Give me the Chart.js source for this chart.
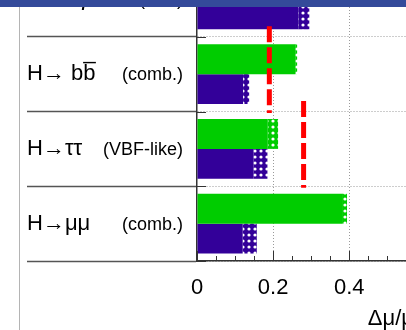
<!DOCTYPE html>
<html>
<head>
<meta charset="utf-8">
<script src="https://cdn.jsdelivr.net/npm/chart.js@4.4.0/dist/chart.umd.min.js"></script>
<style>
  body { margin: 0; background: #fff; }
  #frame { position: relative; width: 406px; height: 330px; overflow: hidden; background: #fff; }
  #band { position: absolute; left: 0; top: 0; width: 406px; height: 7px; background: #344a9a; }
  #rule { position: absolute; left: 19px; top: 0; width: 1px; height: 330px; background: #b4b4b4; }
  #wrap { position: absolute; left: 0; top: -38px; }
</style>
</head>
<body>
<div id="frame">
  <div id="rule"></div>
  <div id="wrap"><canvas id="myChart" width="414" height="368"></canvas></div>
  <div id="band"></div>
</div>
<script>
// channels, top row is cut off by the header
var channels = ['H\u2192Z\u03b3', 'H\u2192 bb\u0305', 'H\u2192\u03c4\u03c4', 'H\u2192\u03bc\u03bc'];
var qualifiers = ['(incl.)', '(comb.)', '(VBF-like)', '(comb.)'];

// 300 fb-1 (green): experimental only / with theory
var green_exp = [null, 0.258, 0.186, 0.381];
var green_tot = [null, 0.263, 0.213, 0.394];

// 3000 fb-1 (blue)
var blue_exp = [0.266, 0.121, 0.148, 0.120];
var blue_tot = [0.295, 0.137, 0.185, 0.157];

// red dashed markers
var red_vals = [null, 0.19, 0.28, null];

var x_ticks = [0, 0.2, 0.4];

function dots(color) {
  var c = document.createElement('canvas');
  c.width = 6; c.height = 6;
  var g = c.getContext('2d');
  g.fillStyle = color;
  g.fillRect(0, 0, 6, 6);
  g.fillStyle = '#fff';
  g.beginPath();
  g.arc(3, 3, 1.6, 0, Math.PI * 2);
  g.fill();
  return g.createPattern(c, 'repeat');
}

function diff(tot, exp) {
  return tot.map(function (t, i) { return t == null ? null : +(t - exp[i]).toFixed(3); });
}

var GREEN = '#00cc00';
var BLUE = '#330099';

// red dashed lines, ROOT minor ticks (inside), y ticks at row edges, qualifiers
var extras = {
  id: 'extras',
  afterDatasetsDraw: function (chart) {
    var ctx = chart.ctx, xs = chart.scales.x, ys = chart.scales.y;
    var step = ys.getPixelForTick(1) - ys.getPixelForTick(0);
    ctx.save();
    ctx.strokeStyle = '#ff0000';
    ctx.lineWidth = 5;
    ctx.setLineDash([16, 5]);
    red_vals.forEach(function (v, i) {
      if (v == null) return;
      var px = xs.getPixelForValue(v);
      var cy = ys.getPixelForTick(i);
      ctx.beginPath();
      ctx.moveTo(px, cy - 0.64 * step);
      ctx.lineTo(px, cy + 0.52 * step);
      ctx.stroke();
    });
    ctx.restore();
  },
  afterDraw: function (chart) {
    var ctx = chart.ctx, xs = chart.scales.x, ys = chart.scales.y, a = chart.chartArea;
    ctx.save();
    ctx.strokeStyle = '#333';
    ctx.lineWidth = 1;
    for (var k = 0; k <= 12; k++) {
      var px = Math.round(xs.getPixelForValue(k * 0.05)) + 0.5;
      if (px > a.right) break;
      var len = k % 4 === 0 ? 10 : 5;
      ctx.beginPath();
      ctx.moveTo(px, a.bottom);
      ctx.lineTo(px, a.bottom - len);
      ctx.stroke();
    }
    var step = ys.getPixelForTick(1) - ys.getPixelForTick(0);
    for (var i = 0; i < channels.length; i++) {
      var py = Math.round(ys.getPixelForTick(i) + step / 2) + 0.5;
      ctx.beginPath();
      ctx.moveTo(a.left, py);
      ctx.lineTo(a.left + 9, py);
      ctx.stroke();
    }
    ctx.fillStyle = '#000';
    ctx.font = '18px "Liberation Sans", Arial, sans-serif';
    ctx.textAlign = 'right';
    ctx.textBaseline = 'middle';
    qualifiers.forEach(function (q, i) {
      ctx.fillText(q, 183, ys.getPixelForTick(i) + 1);
    });
    ctx.restore();
  }
};

var ctx = document.getElementById('myChart').getContext('2d');
var chart = new Chart(ctx, {
  type: 'bar',
  data: {
    labels: channels,
    datasets: [
      {label: '300 exp', stack: 'g', data: green_exp, backgroundColor: GREEN},
      {label: '300 th', stack: 'g', data: diff(green_tot, green_exp), backgroundColor: dots(GREEN)},
      {label: '3000 exp', stack: 'b', data: blue_exp, backgroundColor: BLUE},
      {label: '3000 th', stack: 'b', data: diff(blue_tot, blue_exp), backgroundColor: dots(BLUE)}
    ]
  },
  options: {
    indexAxis: 'y',
    responsive: false,
    animation: false,
    devicePixelRatio: 1,
    datasets: {bar: {categoryPercentage: 0.8, barPercentage: 1.0}},
    layout: {padding: {left: 27, right: 0, top: 0, bottom: 0}},
    plugins: {legend: {display: false}, tooltip: {enabled: false}},
    scales: {
      x: {
        type: 'linear',
        stacked: true,
        min: 0,
        max: 0.57,
        afterBuildTicks: function (s) { s.ticks = x_ticks.map(function (v) { return {value: v}; }); },
        afterFit: function (s) { s.height = 69; s.paddingLeft = 0; s.paddingRight = 0; },
        ticks: {
          color: '#000',
          padding: 14,
          font: {family: '"Liberation Sans", Arial, sans-serif', size: 22}
        },
        grid: {
          drawTicks: false,
          color: function (c) { return c.tick && c.tick.value === 0 ? 'rgba(0,0,0,0)' : '#9a9a9a'; },
          lineWidth: 1
        },
        border: {display: true, color: '#333', width: 1.5, dash: [1, 2]},
        title: {
          display: true,
          text: '\u0394\u03bc/\u03bc',
          align: 'end',
          color: '#000',
          padding: 0,
          font: {family: '"Liberation Sans", Arial, sans-serif', size: 22, lineHeight: 1}
        }
      },
      y: {
        type: 'category',
        stacked: true,
        offset: true,
        afterFit: function (s) { s.width = 170; s.paddingTop = 0; s.paddingBottom = 0; },
        ticks: {
          color: '#000',
          crossAlign: 'far',
          padding: 0,
          font: {family: '"Liberation Sans", Arial, sans-serif', size: 22}
        },
        grid: {
          offset: true,
          drawTicks: true,
          tickLength: 170,
          tickColor: '#555',
          tickWidth: 1.5,
          color: '#9a9a9a',
          lineWidth: 1
        },
        border: {display: true, color: '#333', width: 1.5, dash: [1, 2]}
      }
    }
  },
  plugins: [extras]
});
</script>
</body>
</html>
